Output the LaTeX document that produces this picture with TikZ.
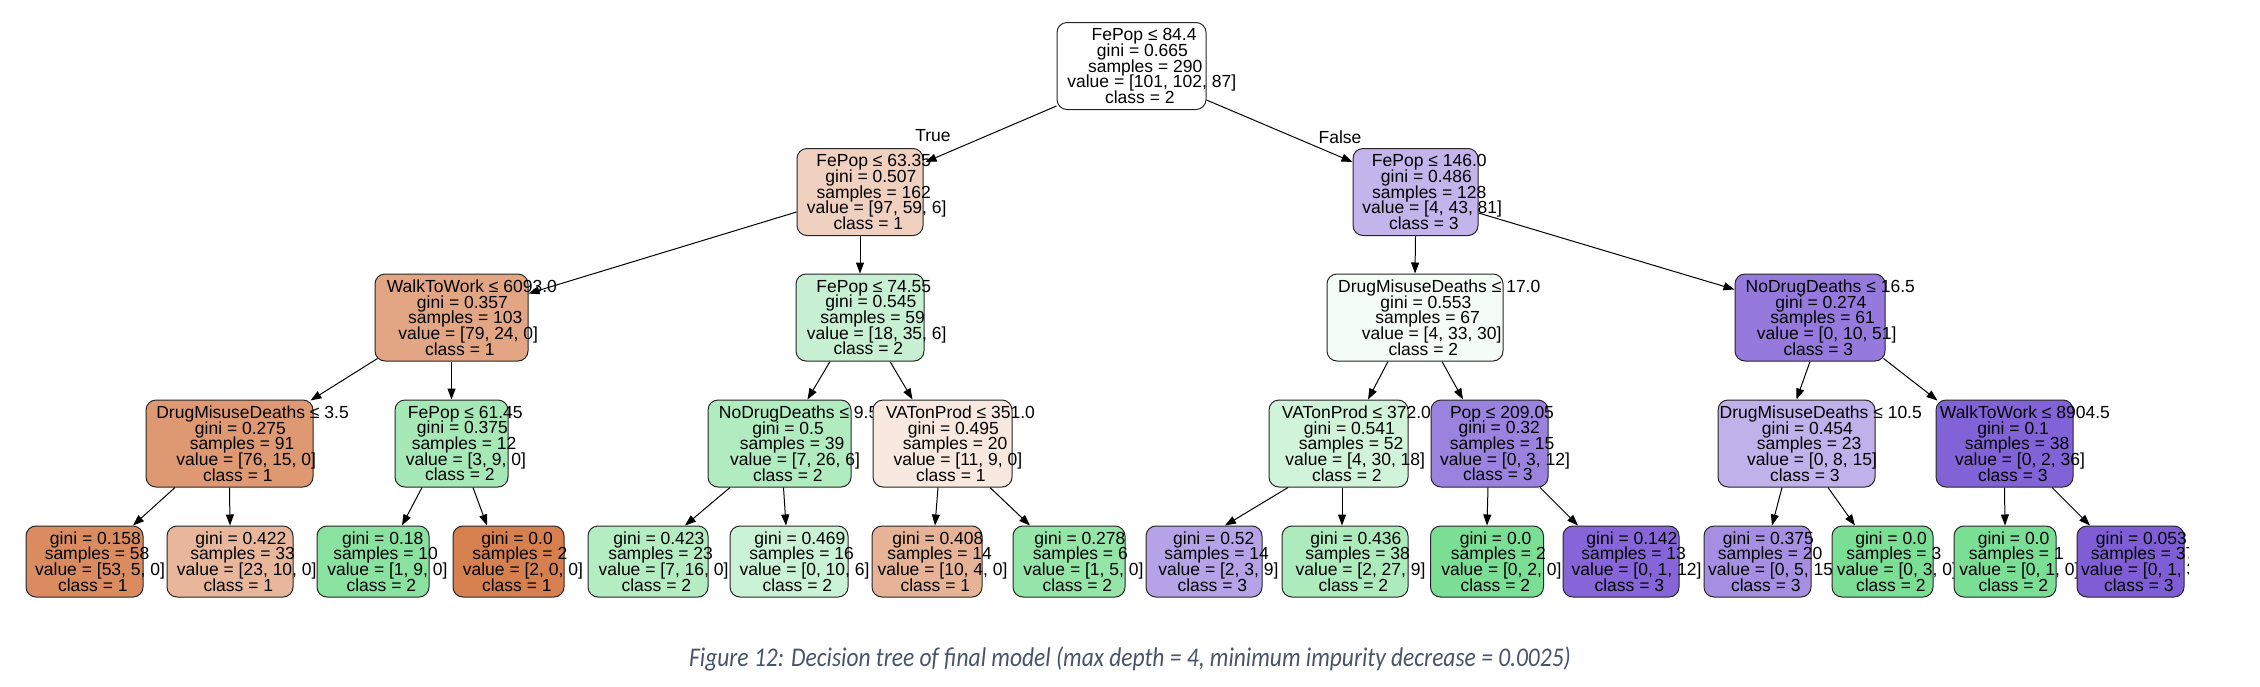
\documentclass[tikz,border=0pt]{standalone}
\usepackage{graphicx}
\usepackage{fontspec}
\setmainfont{Liberation Sans}
\newfontfamily\capfont{Carlito}
\usetikzlibrary{arrows.meta,calc}
\definecolor{cO}{RGB}{214,128,80}
\definecolor{cG}{RGB}{122,222,148}
\definecolor{cP}{RGB}{122,88,212}
\definecolor{capcol}{RGB}{72,84,106}
\setlength{\lineskiplimit}{-40pt}
\newsavebox{\tlinebox}
\newcommand{\tline}[1]{\sbox{\tlinebox}{#1}\makebox[0.76\wd\tlinebox][l]{\usebox{\tlinebox}}}
\newcommand{\nd}[5]{\tline{#1}\\\tline{#2}\\\tline{#3}\\\tline{#4}\\\tline{#5}}
\newcommand{\lf}[4]{\tline{#1}\\\tline{#2}\\\tline{#3}\\\tline{#4}}
\begin{document}
\begin{tikzpicture}[x=1pt,y=-1pt,
  tbox/.style={draw=black!85, line width=1pt, rounded corners=10pt, inner sep=0pt,
    align=center, font=\fontsize{17.5pt}{15.7pt}\selectfont},
  inbox/.style={tbox, minimum height=87pt},
  leafbox/.style={tbox, minimum height=71pt},
  conn/.style={draw=black, line width=1pt, -{Triangle[length=11pt,width=8pt]}},
  elabel/.style={font=\fontsize{17.5pt}{17.5pt}\selectfont, inner sep=0pt}]
\fill[white] (0,0) rectangle (2260,686);
\useasboundingbox (0,0) rectangle (2260,686);
\begin{scope}
\clip (0,0) rectangle (2188,620);
% level 0
\node[inbox, fill=cG!1!white, minimum width=149pt] (root) at (1131.5,66) {\nd{FePop ≤ 84.4}{gini = 0.665}{samples = 290}{value = [101, 102, 87]}{class = 2}};
% level 1
\node[inbox, fill=cO!37!white, minimum width=126pt] (A) at (860,192) {\nd{FePop ≤ 63.35}{gini = 0.507}{samples = 162}{value = [97, 59, 6]}{class = 1}};
\node[inbox, fill=cP!45!white, minimum width=125pt] (B) at (1415.5,192) {\nd{FePop ≤ 146.0}{gini = 0.486}{samples = 128}{value = [4, 43, 81]}{class = 3}};
% level 2
\node[inbox, fill=cO!70!white, minimum width=153pt] (C) at (451.5,317.5) {\nd{WalkToWork ≤ 6093.0}{gini = 0.357}{samples = 103}{value = [79, 24, 0]}{class = 1}};
\node[inbox, fill=cG!42!white, minimum width=128pt] (D) at (860,317.5) {\nd{FePop ≤ 74.55}{gini = 0.545}{samples = 59}{value = [18, 35, 6]}{class = 2}};
\node[inbox, fill=cG!8!white, minimum width=176pt] (E) at (1415,317.5) {\nd{DrugMisuseDeaths ≤ 17.0}{gini = 0.553}{samples = 67}{value = [4, 33, 30]}{class = 2}};
\node[inbox, fill=cP!80!white, minimum width=150pt] (F) at (1810,317.5) {\nd{NoDrugDeaths ≤ 16.5}{gini = 0.274}{samples = 61}{value = [0, 10, 51]}{class = 3}};
% level 3
\node[inbox, fill=cO!80!white, minimum width=167pt] (G) at (229.5,443.5) {\nd{DrugMisuseDeaths ≤ 3.5}{gini = 0.275}{samples = 91}{value = [76, 15, 0]}{class = 1}};
\node[inbox, fill=cG!67!white, minimum width=113pt] (H) at (451.5,443.5) {\nd{FePop ≤ 61.45}{gini = 0.375}{samples = 12}{value = [3, 9, 0]}{class = 2}};
\node[inbox, fill=cG!59!white, minimum width=143pt] (I) at (779.5,443.5) {\nd{NoDrugDeaths ≤ 9.5}{gini = 0.5}{samples = 39}{value = [7, 26, 6]}{class = 2}};
\node[inbox, fill=cO!18!white, minimum width=139pt] (J) at (942.5,443.5) {\nd{VATonProd ≤ 351.0}{gini = 0.495}{samples = 20}{value = [11, 9, 0]}{class = 1}};
\node[inbox, fill=cG!35!white, minimum width=139pt] (K) at (1338.5,443.5) {\nd{VATonProd ≤ 372.0}{gini = 0.541}{samples = 52}{value = [4, 30, 18]}{class = 2}};
\node[inbox, fill=cP!75!white, minimum width=117pt] (L) at (1489.5,443.5) {\nd{Pop ≤ 209.05}{gini = 0.32}{samples = 15}{value = [0, 3, 12]}{class = 3}};
\node[inbox, fill=cP!47!white, minimum width=157pt] (M) at (1796.5,443.5) {\nd{DrugMisuseDeaths ≤ 10.5}{gini = 0.454}{samples = 23}{value = [0, 8, 15]}{class = 3}};
\node[inbox, fill=cP!94!white, minimum width=137pt] (N) at (2004.5,443.5) {\nd{WalkToWork ≤ 8904.5}{gini = 0.1}{samples = 38}{value = [0, 2, 36]}{class = 3}};
% leaves
\node[leafbox, fill=cO!91!white, minimum width=117pt] (l1) at (84.5,561.5) {\lf{gini = 0.158}{samples = 58}{value = [53, 5, 0]}{class = 1}};
\node[leafbox, fill=cO!57!white, minimum width=126pt] (l2) at (230,561.5) {\lf{gini = 0.422}{samples = 33}{value = [23, 10, 0]}{class = 1}};
\node[leafbox, fill=cG!89!white, minimum width=112pt] (l3) at (373,561.5) {\lf{gini = 0.18}{samples = 10}{value = [1, 9, 0]}{class = 2}};
\node[leafbox, fill=cO!100!white, minimum width=111pt] (l4) at (508.5,561.5) {\lf{gini = 0.0}{samples = 2}{value = [2, 0, 0]}{class = 1}};
\node[leafbox, fill=cG!56!white, minimum width=120pt] (l5) at (648,561.5) {\lf{gini = 0.423}{samples = 23}{value = [7, 16, 0]}{class = 2}};
\node[leafbox, fill=cG!40!white, minimum width=118pt] (l6) at (789,561.5) {\lf{gini = 0.469}{samples = 16}{value = [0, 10, 6]}{class = 2}};
\node[leafbox, fill=cO!60!white, minimum width=110pt] (l7) at (927,561.5) {\lf{gini = 0.408}{samples = 14}{value = [10, 4, 0]}{class = 1}};
\node[leafbox, fill=cG!80!white, minimum width=112pt] (l8) at (1069,561.5) {\lf{gini = 0.278}{samples = 6}{value = [1, 5, 0]}{class = 2}};
\node[leafbox, fill=cP!55!white, minimum width=116pt] (l9) at (1204,561.5) {\lf{gini = 0.52}{samples = 14}{value = [2, 3, 9]}{class = 3}};
\node[leafbox, fill=cG!62!white, minimum width=126pt] (l10) at (1345,561.5) {\lf{gini = 0.436}{samples = 38}{value = [2, 27, 9]}{class = 2}};
\node[leafbox, fill=cG!100!white, minimum width=113pt] (l11) at (1487,561.5) {\lf{gini = 0.0}{samples = 2}{value = [0, 2, 0]}{class = 2}};
\node[leafbox, fill=cP!92!white, minimum width=116pt] (l12) at (1621,561.5) {\lf{gini = 0.142}{samples = 13}{value = [0, 1, 12]}{class = 3}};
\node[leafbox, fill=cP!67!white, minimum width=107pt] (l13) at (1757.5,561.5) {\lf{gini = 0.375}{samples = 20}{value = [0, 5, 15]}{class = 3}};
\node[leafbox, fill=cG!100!white, minimum width=101pt] (l14) at (1882.5,561.5) {\lf{gini = 0.0}{samples = 3}{value = [0, 3, 0]}{class = 2}};
\node[leafbox, fill=cG!100!white, minimum width=102pt] (l15) at (2005,561.5) {\lf{gini = 0.0}{samples = 1}{value = [0, 1, 0]}{class = 2}};
\node[leafbox, fill=cP!97!white, minimum width=107pt] (l16) at (2130.5,561.5) {\lf{gini = 0.053}{samples = 37}{value = [0, 1, 36]}{class = 3}};
% edges
\draw[conn] ($(root.south west)+(0,-4)$) -- ($(A.north east)+(2,14)$);
\draw[conn] ($(root.south east)+(0,-10)$) -- ($(B.north west)+(0,14)$);
\draw[conn] ($(A.south west)+(0,-24)$) -- ($(C.north east)+(0,20)$);
\draw[conn] (A.south) -- (D.north);
\draw[conn] (B.south) -- (E.north);
\draw[conn] ($(B.south east)+(0,-23)$) -- ($(F.north west)+(0,16)$);
\draw[conn] ($(C.south west)+(3,-3)$) -- ($(G.north east)+(-3,1)$);
\draw[conn] (C.south) -- (H.north);
\draw[conn] ($(D.south)+(-30,0)$) -- ($(I.north)+(28,0)$);
\draw[conn] ($(D.south)+(30,0)$) -- ($(J.north)+(-30,0)$);
\draw[conn] ($(E.south)+(-27,0)$) -- ($(K.north)+(29.5,0)$);
\draw[conn] ($(E.south)+(27,0)$) -- ($(L.north)+(-26.5,0)$);
\draw[conn] (F.south) -- (M.north);
\draw[conn] ($(F.south east)+(-2,-3)$) -- ($(N.north west)+(2,1)$);
\draw[conn] ($(G.south)+(-54.5,0)$) -- ($(l1.north)+(48.5,0)$);
\draw[conn] (G.south) -- (l2.north);
\draw[conn] ($(H.south)+(-29.5,0)$) -- ($(l3.north)+(29,0)$);
\draw[conn] ($(H.south)+(21.5,0)$) -- ($(l4.north)+(-21.5,0)$);
\draw[conn] ($(I.south)+(-49.5,0)$) -- ($(l5.north)+(37,0)$);
\draw[conn] ($(I.south)+(4,0)$) -- ($(l6.north)+(-3,0)$);
\draw[conn] ($(J.south)+(-4.5,0)$) -- ($(l7.north)+(8,0)$);
\draw[conn] ($(J.south)+(47.5,0)$) -- ($(l8.north)+(-39,0)$);
\draw[conn] ($(K.south)+(-50.5,0)$) -- ($(l9.north)+(21,0)$);
\draw[conn] ($(K.south)+(3.5,0)$) -- ($(l10.north)+(-3,0)$);
\draw[conn] ($(L.south)+(-1.5,0)$) -- (l11.north);
\draw[conn] ($(L.south)+(50.5,0)$) -- ($(l12.north)+(-43,0)$);
\draw[conn] ($(M.south)+(-14.5,0)$) -- ($(l13.north)+(14.5,0)$);
\draw[conn] ($(M.south)+(31.5,0)$) -- ($(l14.north)+(-27.5,0)$);
\draw[conn] (N.south) -- (l15.north);
\draw[conn] ($(N.south)+(47.5,0)$) -- ($(l16.north)+(-40.5,0)$);
\node[elabel] (tT) at (933,136) {True};
\node[elabel] (tF) at (1340,137) {False};
\end{scope}
\node[font=\capfont\itshape\fontsize{27pt}{30pt}\selectfont, text=capcol, inner sep=0pt] (cap) at (1130,659) {\scalebox{0.87}[1]{Figure 12: Decision tree of final model (max depth = 4, minimum impurity decrease = 0.0025)}};
\end{tikzpicture}
\end{document}
